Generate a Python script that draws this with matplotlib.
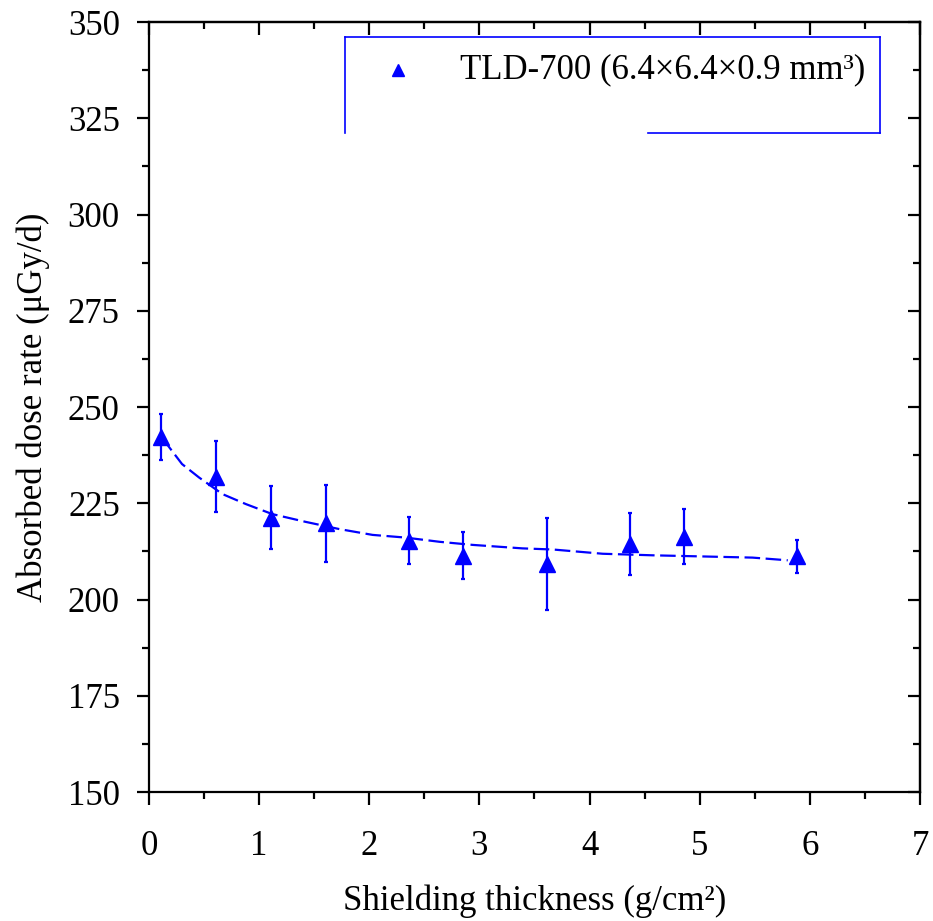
import matplotlib.pyplot as plt
import numpy as np
from matplotlib.lines import Line2D

plt.rcParams['font.family'] = ['Liberation Serif', 'DejaVu Serif']

# measured points
thickness = [0.11, 0.61, 1.11, 1.61, 2.36, 2.85, 3.61, 4.37, 4.86, 5.88]
dose = [242.3, 231.9, 221.3, 219.8, 215.3, 211.4, 209.2, 214.4, 216.3, 211.2]
err = [6.0, 9.2, 8.1, 10.0, 6.1, 6.1, 12.0, 8.1, 7.1, 4.2]

# fitted curve
fit_x = [0.12, 0.18, 0.30, 0.455, 0.667, 0.88, 1.12, 1.42, 1.73, 2.03, 2.33,
         2.64, 2.94, 3.39, 3.67, 4.12, 4.57, 5.03, 5.48, 5.80]
fit_y = [242.0, 239.7, 235.2, 231.7, 227.4, 224.8, 222.2, 220.2, 218.3, 216.8,
         216.1, 215.0, 214.2, 213.3, 213.0, 211.9, 211.5, 211.2, 210.9, 210.2]

blue = '#0000ff'
fs = 25

fig = plt.figure(figsize=(9.33, 9.21), dpi=100)
ax = fig.add_axes([0.1597, 0.140, 0.8263, 0.836])

ax.plot(fit_x, fit_y, color=blue, lw=1.6, dashes=(7, 2.5))
ax.errorbar(thickness, dose, yerr=err, fmt='^', color=blue, ms=11.5,
            elinewidth=1.6, capsize=1.5, capthick=1.6, zorder=3)

ax.set_xlim(0, 7)
ax.set_ylim(150, 350)
xmaj = np.arange(0, 8, 1)
xmin = np.arange(0.5, 7, 1)
ymaj = np.arange(150, 351, 25)
ymin = np.arange(162.5, 350, 25)
ax.set_xticks(xmaj)
ax.set_xticks(xmin, minor=True)
ax.set_yticks(ymaj)
ax.set_yticks(ymin, minor=True)

for s in ax.spines.values():
    s.set_linewidth(1.6)

ax.tick_params(which='both', labelsize=fs, width=1.6, direction='out',
               top=False, right=False)
ax.tick_params(which='major', length=9)
ax.tick_params(which='minor', length=5)
ax.tick_params(axis='x', which='major', pad=18)
ax.tick_params(axis='y', which='major', pad=12)

# inward ticks on top and right
ax2 = ax.secondary_xaxis('top')
ax2.set_xticks(xmaj)
ax2.set_xticks(xmin, minor=True)
ax2.tick_params(which='both', direction='in', width=1.6, labeltop=False)
ax2.tick_params(which='major', length=9)
ax2.tick_params(which='minor', length=5)
ax2.set_xticklabels([])
ax3 = ax.secondary_yaxis('right')
ax3.set_yticks(ymaj)
ax3.set_yticks(ymin, minor=True)
ax3.tick_params(which='both', direction='in', width=1.6)
ax3.tick_params(which='major', length=9)
ax3.tick_params(which='minor', length=5)
ax3.set_yticklabels([])
ax2.spines['top'].set_linewidth(1.6)
ax3.spines['right'].set_linewidth(1.6)

ax.set_xlabel('Shielding thickness (g/cm²)', fontsize=fs, labelpad=16)
ax.set_ylabel('Absorbed dose rate (μGy/d)', fontsize=fs, labelpad=13)

# legend box with gap on the bottom edge
kw = dict(transform=ax.transAxes, color=blue, lw=1.2, clip_on=False)
ax.add_line(Line2D([0.254, 0.948], [0.981, 0.981], **kw))
ax.add_line(Line2D([0.254, 0.254], [0.981, 0.856], **kw))
ax.add_line(Line2D([0.948, 0.948], [0.981, 0.856], **kw))
ax.add_line(Line2D([0.647, 0.948], [0.856, 0.856], **kw))
ax.plot([0.323], [0.938], '^', color=blue, ms=8.5, transform=ax.transAxes)
ax.text(0.403, 0.938, 'TLD-700 (6.4×6.4×0.9 mm³)', transform=ax.transAxes,
        fontsize=fs, va='center', ha='left')

fig.savefig('out.png', dpi=100)
